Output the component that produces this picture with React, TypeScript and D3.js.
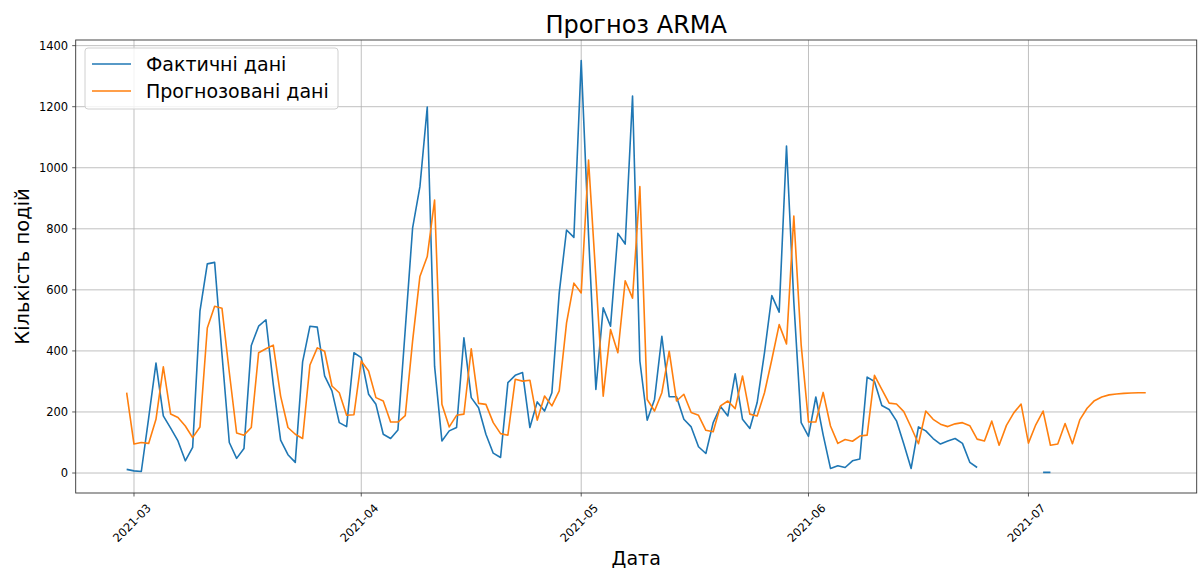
import React from "react";
import * as d3 from "d3";

// Daily series start on this date (UTC); one value per day.
const START_DATE = "2021-02-28";

// Observed daily event counts (null = no observation).
const actual: (number | null)[] = [
  12, 7, 5, 180, 360, 187, 147, 105, 40, 84,
  530, 685, 690, 390, 100, 48, 80, 418, 481, 502,
  290, 108, 60, 35, 364, 481, 478, 318, 269, 165,
  152, 394, 378, 258, 225, 127, 113, 141, 470, 802,
  938, 1199, 350, 105, 138, 149, 443, 247, 214, 127,
  65, 51, 296, 320, 329, 149, 233, 203, 263, 590,
  796, 772, 1351, 780, 274, 541, 481, 785, 750, 1235,
  367, 173, 241, 448, 250, 250, 176, 151, 86, 64,
  165, 218, 187, 325, 176, 146, 231, 394, 581, 527,
  1071, 560, 165, 120, 249, 125, 15, 24, 18, 40,
  46, 314, 300, 221, 208, 171, 95, 15, 151, 138,
  113, 95, 105, 113, 97, 35, 18, null, null, null,
  null, null, null, null, null, 2, 2, null, null, null,
  null, null, null, null, null, null, null, null, null, null,
];

// ARMA model predictions for the same days plus the out-of-sample horizon.
const forecast: number[] = [
  263, 95, 100, 97, 176, 348, 193, 182, 154, 116,
  151, 475, 546, 540, 330, 131, 124, 149, 394, 407,
  419, 252, 149, 127, 113, 354, 410, 399, 285, 263,
  189, 191, 367, 334, 247, 236, 167, 167, 188, 432,
  644, 709, 894, 225, 151, 189, 193, 407, 228, 225,
  165, 129, 124, 307, 301, 304, 173, 252, 220, 269,
  492, 622, 590, 1025, 640, 252, 470, 394, 630, 573,
  938, 241, 203, 263, 399, 236, 258, 198, 189, 140,
  135, 220, 236, 211, 318, 193, 187, 263, 372, 486,
  423, 842, 420, 167, 167, 264, 154, 97, 110, 104,
  121, 124, 320, 274, 229, 226, 201, 150, 96, 203,
  176, 160, 152, 161, 165, 155, 111, 105, 170, 91,
  156, 197, 226, 98, 158, 203, 91, 95, 162, 96,
  174, 212, 237, 249, 256, 259, 261, 262, 263, 263,
];

const yTicks = [0, 200, 400, 600, 800, 1000, 1200, 1400];

const TITLE = "Прогноз ARMA";
const X_LABEL = "Дата";
const Y_LABEL = "Кількість подій";
const SERIES_NAMES = ["Фактичні дані", "Прогнозовані дані"];
const COLORS = ["#1f77b4", "#ff7f0e"];

const W = 1203;
const H = 573;
const AX = { left: 75.7, right: 1196.7, top: 40, bottom: 493 };
const FONT = "'DejaVu Sans', sans-serif";

const DAY = 86400000;
const t0 = Date.parse(START_DATE + "T00:00:00Z");
const dateAt = (i: number) => new Date(t0 + i * DAY);

export default function App() {
  const n = Math.max(actual.length, forecast.length);
  const tStart = t0;
  const tEnd = t0 + (n - 1) * DAY;
  const xPad = (tEnd - tStart) * 0.05;
  const x = d3
    .scaleUtc()
    .domain([new Date(tStart - xPad), new Date(tEnd + xPad)])
    .range([AX.left, AX.right]);

  const allVals = [
    ...actual.filter((v): v is number => v != null),
    ...forecast,
  ];
  const yMin = d3.min(allVals)!;
  const yMax = d3.max(allVals)!;
  const yPad = (yMax - yMin) * 0.05;
  const y = d3
    .scaleLinear()
    .domain([yMin - yPad, yMax + yPad])
    .range([AX.bottom, AX.top]);

  const xTicks = x.ticks(d3.utcMonth.every(1)!);
  const fmt = d3.utcFormat("%Y-%m");

  const lineActual = d3
    .line<number | null>()
    .defined((d) => d != null)
    .x((_, i) => x(dateAt(i)))
    .y((d) => y(d as number));
  const lineForecast = d3
    .line<number>()
    .x((_, i) => x(dateAt(i)))
    .y((d) => y(d));

  const gridColor = "#b0b0b0";

  return (
    <svg
      width={W}
      height={H}
      style={{ position: "absolute", left: 0, top: 0, background: "#fff" }}
      fontFamily={FONT}
    >
      <rect x={0} y={0} width={W} height={H} fill="#fff" />
      <defs>
        <clipPath id="plot-clip">
          <rect
            x={AX.left}
            y={AX.top}
            width={AX.right - AX.left}
            height={AX.bottom - AX.top}
          />
        </clipPath>
      </defs>

      {/* grid */}
      <g stroke={gridColor} strokeWidth={0.8}>
        {xTicks.map((t) => (
          <line
            key={"gx" + t.getTime()}
            x1={x(t)}
            x2={x(t)}
            y1={AX.top}
            y2={AX.bottom}
          />
        ))}
        {yTicks.map((v) => (
          <line
            key={"gy" + v}
            x1={AX.left}
            x2={AX.right}
            y1={y(v)}
            y2={y(v)}
          />
        ))}
      </g>

      {/* series */}
      <g clipPath="url(#plot-clip)" fill="none" strokeWidth={1.6} strokeLinejoin="round">
        <path d={lineActual(actual) || ""} stroke={COLORS[0]} />
        <path d={lineForecast(forecast) || ""} stroke={COLORS[1]} />
      </g>

      {/* frame */}
      <rect
        x={AX.left}
        y={AX.top}
        width={AX.right - AX.left}
        height={AX.bottom - AX.top}
        fill="none"
        stroke="#333"
        strokeWidth={0.9}
      />

      {/* y axis ticks */}
      <g fontSize={11.5} fill="#000">
        {yTicks.map((v) => (
          <g key={"yt" + v}>
            <line
              x1={AX.left - 3.5}
              x2={AX.left}
              y1={y(v)}
              y2={y(v)}
              stroke="#333"
              strokeWidth={0.8}
            />
            <text
              x={AX.left - 7.5}
              y={y(v)}
              textAnchor="end"
              dominantBaseline="central"
            >
              {v}
            </text>
          </g>
        ))}
      </g>

      {/* x axis ticks */}
      <g fontSize={11.5} fill="#000">
        {xTicks.map((t) => (
          <g key={"xt" + t.getTime()}>
            <line
              x1={x(t)}
              x2={x(t)}
              y1={AX.bottom}
              y2={AX.bottom + 3.5}
              stroke="#333"
              strokeWidth={0.8}
            />
            <text
              transform={`translate(${x(t) - 2},${AX.bottom + 30}) rotate(-45)`}
              textAnchor="middle"
              dominantBaseline="central"
            >
              {fmt(t)}
            </text>
          </g>
        ))}
      </g>

      {/* title and axis labels */}
      <text x={(AX.left + AX.right) / 2} y={33} textAnchor="middle" fontSize={24}>
        {TITLE}
      </text>
      <text x={(AX.left + AX.right) / 2} y={565} textAnchor="middle" fontSize={19}>
        {X_LABEL}
      </text>
      <text
        transform={`translate(29,${(AX.top + AX.bottom) / 2}) rotate(-90)`}
        textAnchor="middle"
        fontSize={19.5}
      >
        {Y_LABEL}
      </text>

      {/* legend */}
      <g>
        <rect
          x={85}
          y={48}
          width={253}
          height={61}
          rx={3}
          fill="#fff"
          fillOpacity={0.8}
          stroke="#d0d0d0"
          strokeWidth={1}
        />
        {SERIES_NAMES.map((name, i) => (
          <g key={name}>
            <line
              x1={92}
              x2={131}
              y1={64 + i * 27}
              y2={64 + i * 27}
              stroke={COLORS[i]}
              strokeWidth={1.6}
            />
            <text x={146} y={64 + i * 27} dominantBaseline="central" fontSize={19}>
              {name}
            </text>
          </g>
        ))}
      </g>
    </svg>
  );
}
